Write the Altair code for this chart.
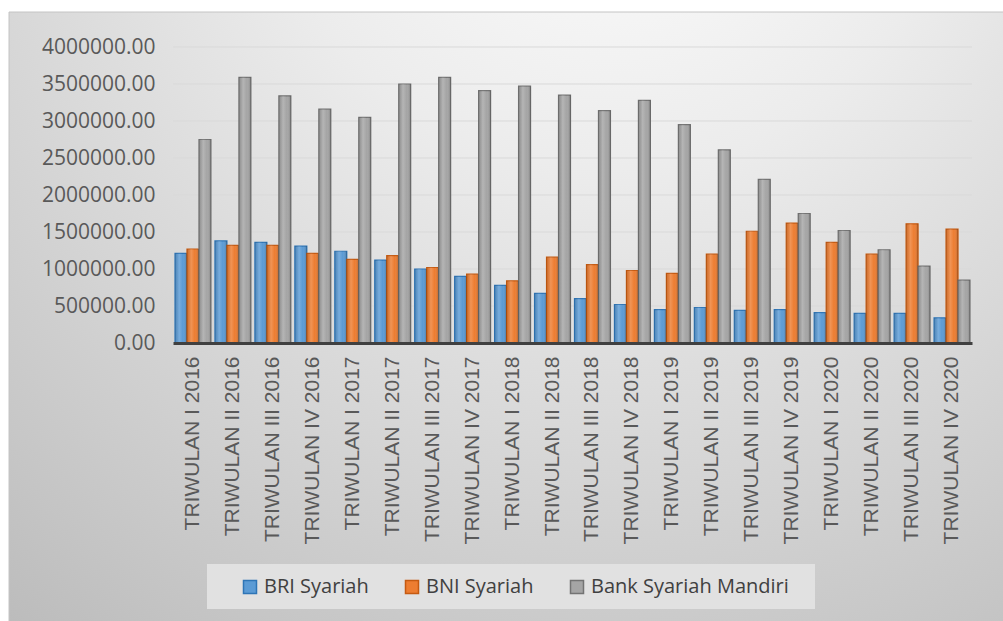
import altair as alt
import pandas as pd

quarters = [
    "TRIWULAN I 2016", "TRIWULAN II 2016", "TRIWULAN III 2016", "TRIWULAN IV 2016",
    "TRIWULAN I 2017", "TRIWULAN II 2017", "TRIWULAN III 2017", "TRIWULAN IV 2017",
    "TRIWULAN I 2018", "TRIWULAN II 2018", "TRIWULAN III 2018", "TRIWULAN IV 2018",
    "TRIWULAN I 2019", "TRIWULAN II 2019", "TRIWULAN III 2019", "TRIWULAN IV 2019",
    "TRIWULAN I 2020", "TRIWULAN II 2020", "TRIWULAN III 2020", "TRIWULAN IV 2020",
]
banks = ["BRI Syariah", "BNI Syariah", "Bank Syariah Mandiri"]

bri = [1210000, 1380000, 1360000, 1310000, 1240000, 1120000, 1000000, 900000, 780000, 670000,
       600000, 520000, 450000, 480000, 440000, 450000, 410000, 400000, 400000, 340000]
bni = [1270000, 1320000, 1320000, 1210000, 1130000, 1180000, 1020000, 930000, 840000, 1160000,
       1060000, 980000, 940000, 1200000, 1510000, 1620000, 1360000, 1200000, 1610000, 1540000]
bsm = [2750000, 3590000, 3340000, 3160000, 3050000, 3500000, 3590000, 3410000, 3470000, 3350000,
       3140000, 3280000, 2950000, 2610000, 2210000, 1750000, 1520000, 1260000, 1040000, 850000]

y_ticks = [0, 500000, 1000000, 1500000, 2000000, 2500000, 3000000, 3500000, 4000000]

fill_colors = ["#5b9bd5", "#ed7d31", "#a5a5a5"]
stroke_colors = ["#2e75b6", "#c55a11", "#737373"]

rows = []
for series_name, vals in zip(banks, [bri, bni, bsm]):
    for q, v in zip(quarters, vals):
        rows.append({"quarter": q, "bank": series_name, "value": v})
df = pd.DataFrame(rows)
grid_df = pd.DataFrame({"v": y_ticks})
one = pd.DataFrame({"k": [0]})

W, H = 799, 296

y_scale = alt.Scale(domain=[0, 4000000], nice=False)
y_axis = alt.Axis(values=y_ticks, format=".2f", grid=False, domain=False, ticks=False,
                  labelFont="Open Sans", labelFontSize=21, labelColor="#595959",
                  labelPadding=18, zindex=1, title=None)
x_enc = alt.X("quarter:N", sort=quarters,
              scale=alt.Scale(paddingInner=0.1, paddingOuter=0.05),
              axis=alt.Axis(labelAngle=-90, ticks=False, domain=True, domainColor="#404040",
                            domainWidth=3, labelPadding=13, labelFont="Liberation Sans",
                            labelFontSize=21, labelColor="#595959", labelLimit=400,
                            zindex=1, title=None))
xoff_enc = alt.XOffset("bank:N", sort=banks, scale=alt.Scale(domain=banks))
y_enc = alt.Y("value:Q", scale=y_scale, axis=y_axis)

bg = alt.Chart(one).mark_rect(
    fill={"gradient": "radial", "x1": 0.6, "y1": 0.0, "r1": 0.0,
          "x2": 0.6, "y2": 0.0, "r2": 1.0,
          "stops": [{"offset": 0.0, "color": "#ffffff"},
                    {"offset": 0.35, "color": "#ececec"},
                    {"offset": 1.0, "color": "#bcbcbc"}]},
    stroke="#c4c4c4", strokeWidth=1,
).encode(x=alt.value(-164), x2=alt.value(840), y=alt.value(-35), y2=alt.value(580))

legend_box = alt.Chart(one).mark_rect(fill="#e1e1e1").encode(
    x=alt.value(34), x2=alt.value(642), y=alt.value(517), y2=alt.value(562)
)

grid = alt.Chart(grid_df).mark_rule(color="#d9d9d9", strokeWidth=1).encode(
    y=alt.Y("v:Q", scale=y_scale, axis=y_axis),
    x=alt.value(0), x2=alt.value(W),
)

bars = alt.Chart(df).mark_bar(strokeWidth=1.2).encode(
    x=x_enc,
    xOffset=xoff_enc,
    y=y_enc,
    color=alt.Color("bank:N", sort=banks,
                    scale=alt.Scale(domain=banks, range=fill_colors),
                    legend=alt.Legend(orient="none", legendX=67, legendY=530,
                                      direction="horizontal", title=None,
                                      symbolType="square", symbolSize=169,
                                      symbolStrokeWidth=1.5, symbolOpacity=1,
                                      labelFont="Open Sans", labelFontSize=20,
                                      labelColor="#404040", labelOffset=4,
                                      columnPadding=33, labelLimit=400, padding=0)),
    stroke=alt.Stroke("bank:N", sort=banks,
                      scale=alt.Scale(domain=banks, range=stroke_colors), legend=None),
)

shade = alt.Chart(df).mark_bar(
    fill={"gradient": "linear", "x1": 0, "y1": 0, "x2": 1, "y2": 0,
          "stops": [{"offset": 0.0, "color": "rgba(0,0,0,0.12)"},
                    {"offset": 0.35, "color": "rgba(255,255,255,0.18)"},
                    {"offset": 0.65, "color": "rgba(255,255,255,0.0)"},
                    {"offset": 1.0, "color": "rgba(0,0,0,0.22)"}]},
).encode(x=x_enc, xOffset=xoff_enc, y=y_enc)

chart = alt.layer(bg, legend_box, grid, bars, shade).properties(
    width=W, height=H,
    autosize=alt.AutoSizeParams(type="none"),
    padding={"left": 173, "top": 47, "right": 31, "bottom": 278},
    background="#ffffff",
).configure_view(stroke=None)

chart.save("out.html", embed_options={"renderer": "svg", "actions": False})
